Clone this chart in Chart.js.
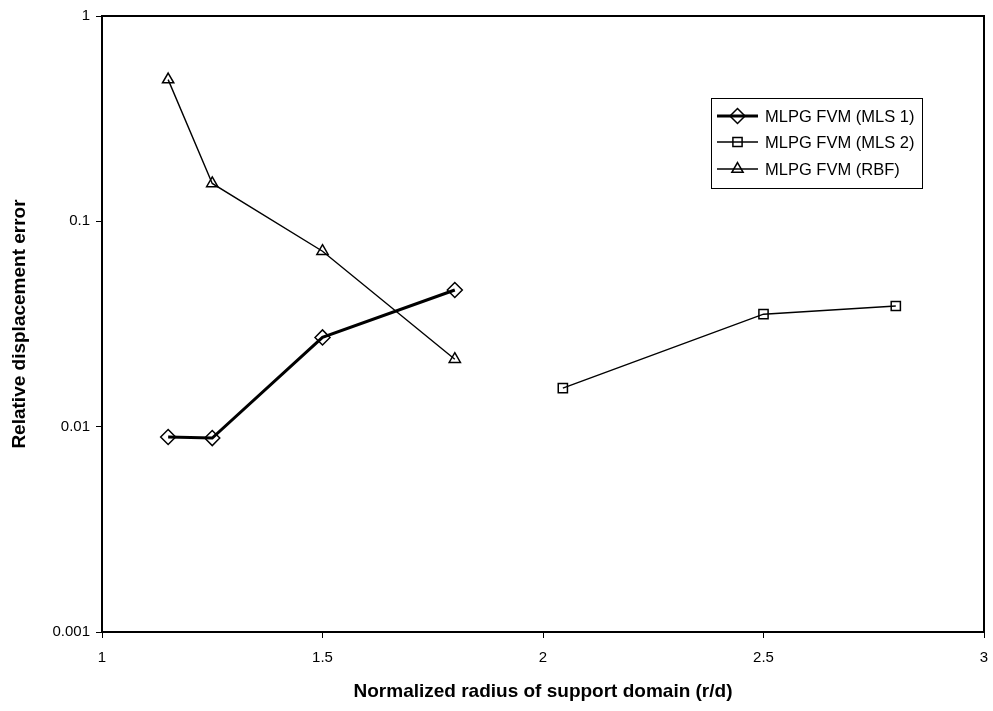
<!DOCTYPE html>
<html>
<head>
<meta charset="utf-8">
<script src="https://cdn.jsdelivr.net/npm/chart.js@4/dist/chart.umd.min.js"></script>
<style>
  body { margin: 0; background: #fff; }
  canvas { display: block; }
</style>
</head>
<body>
<canvas id="errChart" width="993" height="711"></canvas>
<script>
  // radius ratios and relative displacement error for each method
  const mls1X = [1.15, 1.25, 1.5, 1.8];
  const mls1Y = [0.0089, 0.0088, 0.0272, 0.0463];
  const mls2X = [2.045, 2.5, 2.8];
  const mls2Y = [0.0154, 0.0353, 0.0387];
  const rbfX = [1.15, 1.25, 1.5, 1.8];
  const rbfY = [0.49, 0.153, 0.0715, 0.0213];

  const seriesNames = ['MLPG FVM (MLS 1)', 'MLPG FVM (MLS 2)', 'MLPG FVM (RBF)'];
  const yTicks = [1, 0.1, 0.01, 0.001];
  const yTickLabels = ['1', '0.1', '0.01', '0.001'];
  const xTicks = [1, 1.5, 2, 2.5, 3];
  const xTickLabels = ['1', '1.5', '2', '2.5', '3'];

  const FONT = 'Liberation Sans, Arial, sans-serif';

  function pts(xs, ys) {
    return xs.map((x, i) => ({ x: x, y: ys[i] }));
  }

  const styles = [
    { pointStyle: 'rectRot', radius: 7.5, borderWidth: 3 },
    { pointStyle: 'rect', radius: 6.5, borderWidth: 1.4 },
    { pointStyle: 'triangle', radius: 6.5, borderWidth: 1.4 }
  ];

  const datasets = [pts(mls1X, mls1Y), pts(mls2X, mls2Y), pts(rbfX, rbfY)].map((d, i) => ({
    label: seriesNames[i],
    data: d,
    borderColor: '#000',
    borderWidth: styles[i].borderWidth,
    pointStyle: styles[i].pointStyle,
    pointRadius: styles[i].radius,
    pointBorderColor: '#000',
    pointBorderWidth: 1.5,
    pointBackgroundColor: 'rgba(0,0,0,0)',
    tension: 0
  }));

  // box around the plot area + boxed legend in the upper right
  const framePlugin = {
    id: 'frame',
    afterDraw(chart) {
      const ctx = chart.ctx;
      const a = chart.chartArea;
      ctx.save();
      ctx.strokeStyle = '#000';
      ctx.lineWidth = 2;
      ctx.strokeRect(a.left, a.top, a.right - a.left, a.bottom - a.top);

      const lx = 711, ly = 98, lw = 211, lh = 90;
      ctx.lineWidth = 1;
      ctx.fillStyle = '#fff';
      ctx.fillRect(lx, ly, lw, lh);
      ctx.strokeRect(lx + 0.5, ly + 0.5, lw, lh);
      ctx.font = '16.5px ' + FONT;
      ctx.textBaseline = 'middle';
      const rowY = [116, 142, 169];
      seriesNames.forEach((name, i) => {
        const y = rowY[i];
        ctx.strokeStyle = '#000';
        ctx.lineWidth = styles[i].borderWidth;
        ctx.beginPath();
        ctx.moveTo(717, y);
        ctx.lineTo(758, y);
        ctx.stroke();
        ctx.lineWidth = 1.5;
        ctx.fillStyle = 'rgba(0,0,0,0)';
        Chart.helpers.drawPoint(ctx, {
          pointStyle: styles[i].pointStyle,
          radius: styles[i].radius,
          rotation: 0,
          borderWidth: 1.5
        }, 737.5, y);
        ctx.fillStyle = '#000';
        ctx.fillText(name, 765, y + 1);
      });
      ctx.restore();
    }
  };

  new Chart(document.getElementById('errChart'), {
    type: 'line',
    data: { datasets: datasets },
    options: {
      responsive: false,
      animation: false,
      layout: { padding: { top: 16, right: 5, left: 0, bottom: 0 } },
      plugins: { legend: { display: false }, tooltip: { enabled: false } },
      scales: {
        x: {
          type: 'linear',
          min: 1,
          max: 3,
          afterBuildTicks: s => { s.ticks = xTicks.map(v => ({ value: v })); },
          afterFit: s => { s.height = 79; s.paddingRight = 0; s.paddingLeft = 0; },
          grid: { drawOnChartArea: false, drawTicks: true, tickLength: 6, color: '#000', tickWidth: 1 },
          border: { color: '#000', width: 2 },
          ticks: {
            color: '#000',
            padding: 11,
            maxRotation: 0,
            font: { family: FONT, size: 15 },
            callback: (v, i) => xTickLabels[i]
          },
          title: {
            display: true,
            text: 'Normalized radius of support domain (r/d)',
            color: '#000',
            font: { family: FONT, size: 19, weight: 'bold' },
            padding: { top: 0, bottom: 8 }
          }
        },
        y: {
          type: 'logarithmic',
          min: 0.001,
          max: 1,
          afterBuildTicks: s => { s.ticks = yTicks.map(v => ({ value: v })); },
          afterFit: s => { s.width = 102; s.paddingTop = 0; s.paddingBottom = 0; },
          grid: { drawOnChartArea: false, drawTicks: true, tickLength: 6, color: '#000', tickWidth: 1 },
          border: { color: '#000', width: 2 },
          ticks: {
            color: '#000',
            padding: 6,
            font: { family: FONT, size: 15 },
            callback: (v, i) => yTickLabels[i]
          },
          title: {
            display: true,
            text: 'Relative displacement error',
            color: '#000',
            font: { family: FONT, size: 19, weight: 'bold' },
            padding: { top: 8, bottom: 0 }
          }
        }
      }
    },
    plugins: [framePlugin]
  });
</script>
</body>
</html>
